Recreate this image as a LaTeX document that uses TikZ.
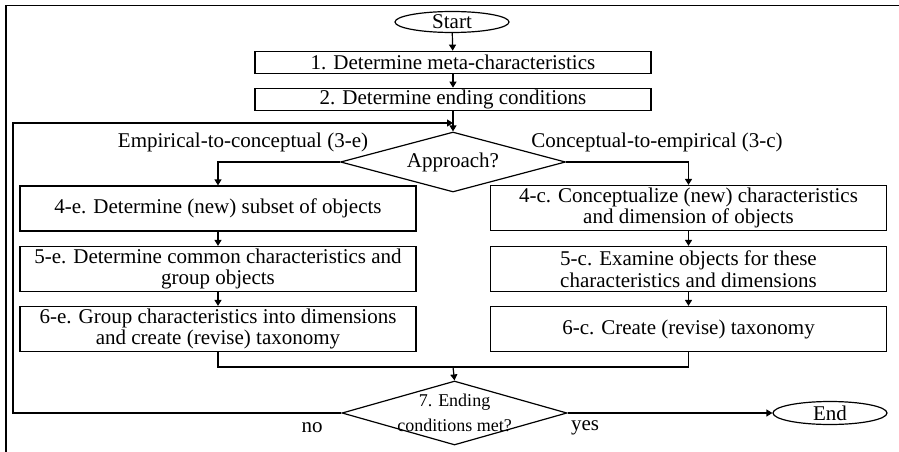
\documentclass[tikz,border=0pt]{standalone}
\usepackage{fontspec}
\setmainfont{Liberation Serif}
\usetikzlibrary{shapes.geometric,arrows.meta}
\tikzset{>={Triangle[length=6pt,width=7pt]}}
\newcommand*{\nsz}{\fontsize{21}{21.7}\selectfont}
\newcommand*{\ssz}{\fontsize{18}{25}\selectfont}

\begin{document}
\begin{tikzpicture}[x=1pt,y=-1pt,line width=1.2pt,
  box/.style={draw,rectangle,minimum width=396pt,minimum height=22.5pt,inner sep=0pt,align=center,font=\nsz},
  tallbox/.style={box,minimum height=45pt},
  decision/.style={draw,diamond,minimum width=225pt,minimum height=60pt,inner sep=0pt,aspect=3.5,font=\nsz},
  term/.style={draw,ellipse,minimum width=114pt,minimum height=21pt,inner sep=0pt,font=\nsz}]
\useasboundingbox (0,0) rectangle (899,452);
\draw (6,452) -- (6,5.5) -- (899,5.5);
% steps
\node[term] (start) at (452,22) {Start};
\node[box] (s1) at (453,62.5) {1. Determine meta-characteristics};
\node[box] (s2) at (453,99.5) {2. Determine ending conditions};
\node[decision] (appr) at (453,162) {Approach?};
\node[font=\nsz] at (243,142) {Empirical-to-conceptual (3-e)};
\node[font=\nsz] at (657,142) {Conceptual-to-empirical (3-c)};
\node[tallbox] (e4) at (218,208.5) {4-e. Determine (new) subset of objects};
\node[tallbox] (e5) at (218,269) {5-e. Determine common characteristics and\\group objects};
\node[tallbox] (e6) at (218,329) {6-e. Group characteristics into dimensions\\and create (revise) taxonomy};
\node[tallbox] (c4) at (688.5,208) {4-c. Conceptualize (new) characteristics\\and dimension of objects};
\node[tallbox] (c5) at (688.5,269) {5-c. Examine objects for these\\characteristics and dimensions};
\node[tallbox] (c6) at (688.5,329) {6-c. Create (revise) taxonomy};
\node[decision,minimum height=64pt] (d7) at (454.5,413) {};
\node[font=\ssz,align=center] at (d7) {7. Ending\\conditions met?};
\node[term,minimum height=23pt] (end) at (830,413) {End};
\node[font=\nsz] at (312,428) {no};
\node[font=\nsz] at (585,428) {yes};
\coordinate (back) at (13,123);
\coordinate (join) at (453,367);
% connectors
\draw[->] (start) -- (s1);
\draw[->] (s1) -- (s2);
\draw[->] (s2) -- (appr);
\draw[->] (appr.west) -| (e4.north);
\draw[->] (appr.east) -| (c4.north);
\draw[->] (e4) -- (e5);
\draw[->] (e5) -- (e6);
\draw[->] (c4) -- (c5);
\draw[->] (c5) -- (c6);
\draw (e6.south) |- (join) -| (c6.south);
\draw[->] (join) -- (d7.north);
\draw[->] (d7.east) -- (end.west);
\draw[->] (d7.west) -| (back) -- (back -| s2.south);
\end{tikzpicture}
\end{document}
